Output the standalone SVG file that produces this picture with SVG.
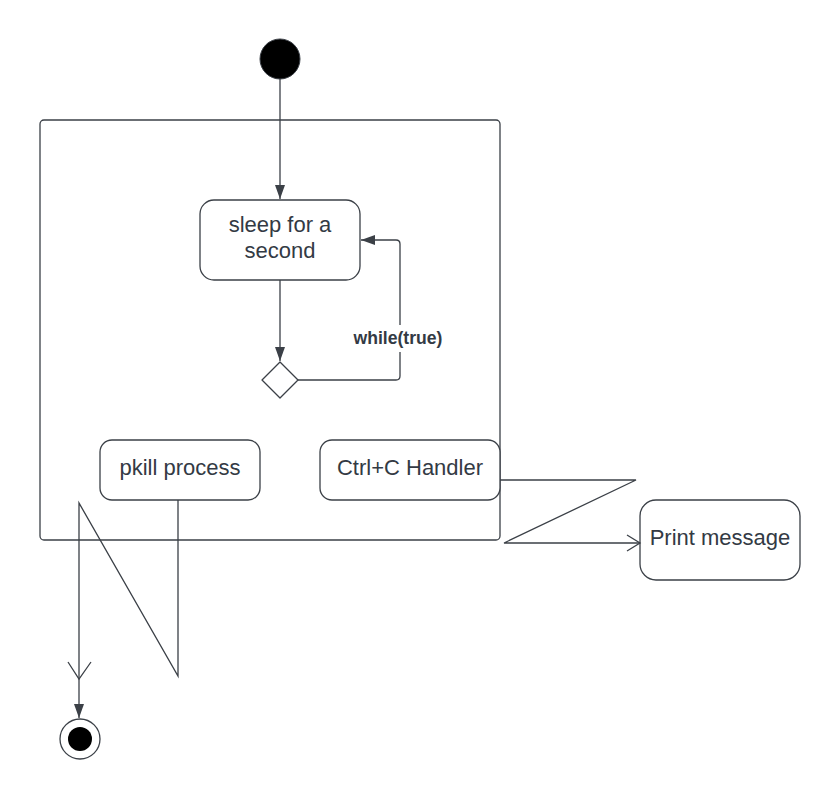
<svg xmlns="http://www.w3.org/2000/svg" width="840" height="800" viewBox="0 0 840 800">
<defs>
<marker id="fa" viewBox="0 0 14 10" refX="14" refY="5" markerWidth="14" markerHeight="10" markerUnits="userSpaceOnUse" orient="auto">
<path d="M0,0 L14,5 L0,10 Z" fill="#3b4047"/>
</marker>
</defs>
<style>
.n{fill:#ffffff;stroke:#3b4047;stroke-width:1.3}
.c{fill:none;stroke:#3b4047;stroke-width:1.3}
.t{font-family:"Liberation Sans",Arial,sans-serif;font-size:22px;fill:#333a44;text-anchor:middle}
.b{font-family:"Liberation Sans",Arial,sans-serif;font-size:17.6px;font-weight:bold;fill:#333a44;text-anchor:middle}
</style>
<rect width="840" height="800" fill="#ffffff"/>
<g id="container"><rect class="n" x="40" y="120" width="460" height="420" rx="4"/></g>
<g id="start"><circle cx="280" cy="59" r="20" fill="#000000" stroke="#3b4047" stroke-width="1"/></g>
<g id="sleep"><rect class="n" x="200" y="200" width="160" height="80" rx="14"/>
<text class="t" x="280" y="232">sleep for a</text><text class="t" x="280" y="258">second</text></g>
<g id="decision"><path class="n" d="M280,362 L298,380 L280,398 L262,380 Z" stroke-linejoin="round"/></g>
<g id="pkill"><rect class="n" x="100" y="440" width="160" height="60" rx="12"/>
<text class="t" x="180" y="475">pkill process</text></g>
<g id="ctrlc"><rect class="n" x="320" y="440" width="180" height="60" rx="12"/>
<text class="t" x="410" y="475">Ctrl+C Handler</text></g>
<g id="print"><rect class="n" x="640" y="500" width="160" height="80" rx="16"/>
<text class="t" x="720" y="545">Print message</text></g>
<g id="end"><circle cx="80" cy="739" r="20" fill="#ffffff" stroke="#3b4047" stroke-width="1.3"/><circle cx="80" cy="739" r="12" fill="#000000"/></g>
<g id="connectors">
<path class="c" d="M280,79 L280,199" marker-end="url(#fa)"/>
<path class="c" d="M280,280 L280,361" marker-end="url(#fa)"/>
<path class="c" d="M298,380 L396,380 Q400,380 400,376 L400,244 Q400,240 396,240 L361,240" marker-end="url(#fa)"/>
<rect x="352" y="325" width="92" height="27" fill="#ffffff"/>
<text class="b" x="398" y="344">while(true)</text>
<path class="c" d="M500,480 L636,480 L504,543 L640,543"/>
<path class="c" d="M627,535 L640,543 L627,551"/>
<path class="c" d="M178,500 L178,676 L79,503 L79,679"/>
<path class="c" d="M68,662 L79,679 L91,662"/>
<path class="c" d="M79,679 L79,718" marker-end="url(#fa)"/>
</g>
</svg>
